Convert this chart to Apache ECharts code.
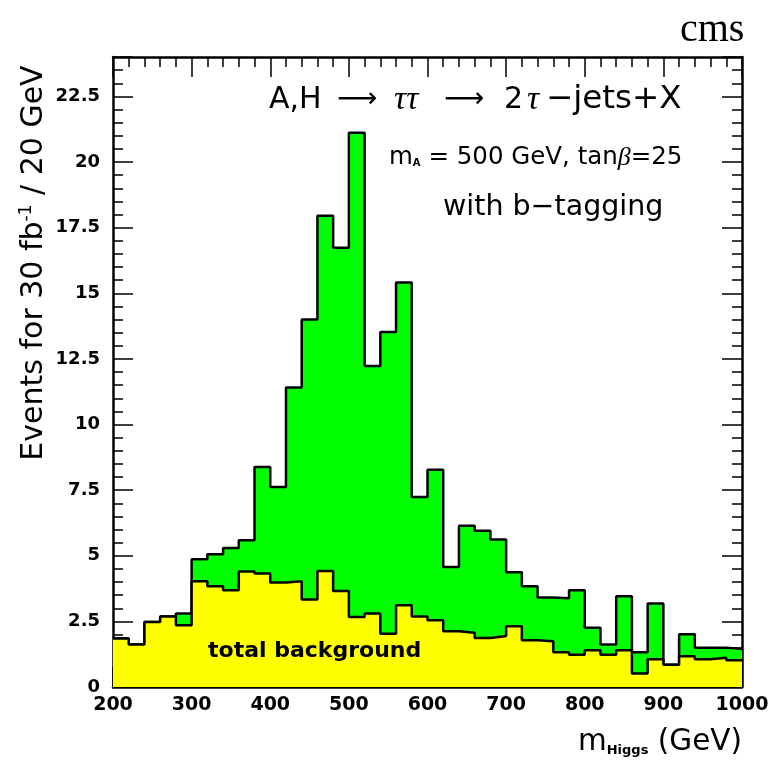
<!DOCTYPE html>
<html><head><meta charset="utf-8">
<script src="https://cdn.jsdelivr.net/npm/echarts@6/dist/echarts.min.js"></script>
<style>html,body{margin:0;padding:0;background:#fff}#c{width:776px;height:766px}</style>
</head><body><div id="c"></div>
<script>
// bin left edges (GeV), plus the final right edge
var binEdges = [200,220,240,260,280,300,320,340,360,380,400,420,440,460,480,500,520,540,560,580,600,620,640,660,680,700,720,740,760,780,800,820,840,860,880,900,920,940,960,980,1000];
// signal + background (total), events per bin
var totalEvents = [1.85,1.62,2.48,2.69,2.80,4.87,5.06,5.30,5.59,8.38,7.62,11.41,14.0,17.95,16.73,21.11,12.23,13.52,15.41,7.24,8.28,4.57,6.14,5.95,5.62,4.37,3.84,3.41,3.38,3.69,2.26,1.62,3.46,1.32,3.18,0.85,2.01,1.50,1.50,1.45];
// total background, events per bin
var bkgEvents = [1.85,1.62,2.48,2.69,2.35,4.03,3.84,3.69,4.40,4.32,3.98,4.03,3.33,4.42,3.66,2.67,2.80,2.03,3.11,2.69,2.54,2.12,2.07,1.87,1.94,2.31,1.78,1.74,1.32,1.23,1.40,1.23,1.40,0.51,1.06,0.85,1.17,1.06,1.11,1.02];
var yTicks = [0,2.5,5,7.5,10,12.5,15,17.5,20,22.5];
var xTicks = [200,300,400,500,600,700,800,900,1000];

function stepData(vals){
  var d = [];
  for (var i=0;i<vals.length;i++) d.push([binEdges[i], vals[i]]);
  d.push([binEdges[vals.length], vals[vals.length-1]]);
  return d;
}
var FONT = 'DejaVu Sans';
var chart = echarts.init(document.getElementById('c'), null, {renderer:'canvas'});
var axisCommon = {
  axisLine:{show:true, onZero:false, lineStyle:{color:'#000', width:2.5}},
  axisTick:{show:true, inside:true, length:20, lineStyle:{color:'#000', width:1.5}},
  minorTick:{show:true, splitNumber:5, length:10, lineStyle:{color:'#000', width:1.5}},
  splitLine:{show:false}
};
chart.setOption({
  animation:false,
  grid:{left:113, right:34, top:57, bottom:79, containLabel:false},
  xAxis:[
    Object.assign({type:'value', min:200, max:1000, interval:100, position:'bottom',
      axisLabel:{show:true, color:'#000', fontFamily:FONT, fontWeight:'bold', fontSize:19, margin:9,
        formatter:function(v){return xTicks.indexOf(v)>=0? String(v):'';}},
      name:'{m|m}{s|Higgs}{m| (GeV)}', nameLocation:'end', nameGap:0,
      nameTextStyle:{align:'right', verticalAlign:'top', padding:[40,0,0,0],
        rich:{m:{fontFamily:FONT, fontSize:29.5, color:'#000'}, s:{fontFamily:FONT, fontSize:13, fontWeight:'bold', color:'#000', verticalAlign:'bottom', padding:[16,0,0,0]}}}
    }, axisCommon),
    Object.assign({type:'value', min:200, max:1000, interval:100, position:'top', axisLabel:{show:false}}, axisCommon)
  ],
  yAxis:[
    Object.assign({type:'value', min:0, max:24, interval:2.5, position:'left',
      axisLabel:{show:true, color:'#000', fontFamily:FONT, fontWeight:'bold', fontSize:18, margin:13,
        formatter:function(v){return yTicks.indexOf(v)>=0? String(v):'';}}
    }, axisCommon),
    Object.assign({type:'value', min:0, max:24, interval:2.5, position:'right', axisLabel:{show:false}}, axisCommon)
  ],
  series:[
    {type:'line', name:'total', step:'end', data:stepData(totalEvents), symbol:'none', z:2,
     lineStyle:{color:'#000', width:2.5}, areaStyle:{color:'#00ff00', opacity:1, origin:'start'}},
    {type:'line', name:'background', step:'end', data:stepData(bkgEvents), symbol:'none', z:3,
     lineStyle:{color:'#000', width:2.5}, areaStyle:{color:'#ffff00', opacity:1, origin:'start'}}
  ],
  graphic:[
    {type:'text', left:680, top:10, style:{text:'cms', font:'40px "Liberation Serif"', fill:'#000'}},
    {type:'text', x:34, y:263, rotation:Math.PI/2, style:{
      text:'{t|Events for 30 fb}{sup|-1}{t| / 20 GeV}', align:'center', verticalAlign:'middle',
      rich:{t:{fontFamily:FONT, fontSize:30, fill:'#000'}, sup:{fontFamily:FONT, fontSize:17, fill:'#000', padding:[0,0,14,0]}}}},
    {type:'text', x:269, y:100, style:{
      text:'{a|A,H}{r|\u27f6}{g1|\u03c4\u03c4}{r2|\u27f6}{b|2}{g2|\u03c4}{c|\u2212jets+X}', verticalAlign:'middle',
      rich:{
        a:{fontFamily:FONT, fontSize:30, fill:'#000', width:68},
        r:{fontFamily:FONT, fontSize:28, fill:'#000', width:57},
        g1:{fontFamily:'Liberation Serif', fontStyle:'italic', fontSize:34, fill:'#000', width:50},
        r2:{fontFamily:FONT, fontSize:28, fill:'#000', width:60},
        b:{fontFamily:FONT, fontSize:30, fill:'#000', width:23},
        g2:{fontFamily:'Liberation Serif', fontStyle:'italic', fontSize:34, fill:'#000', width:19},
        c:{fontFamily:FONT, fontSize:32.5, fill:'#000'}
      }}},
    {type:'text', left:389, top:145, style:{
      text:'{n|m}{s|A}{n| = 500 GeV, tan}{g|\u03b2}{n|=25}',
      rich:{n:{fontFamily:FONT, fontSize:24.5, fill:'#000'}, s:{fontFamily:FONT, fontSize:10, fontWeight:'bold', fill:'#000', padding:[10,0,0,0]}, g:{fontFamily:'Liberation Serif', fontStyle:'italic', fontSize:26, fill:'#000'}}}},
    {type:'text', left:443, top:193, style:{text:'with b\u2212tagging', font:'28.5px "DejaVu Sans"', fill:'#000'}},
    {type:'text', left:208, top:640, z:100, style:{text:'total background', font:'bold 22px "DejaVu Sans"', fill:'#000'}}
  ]
});
</script></body></html>
